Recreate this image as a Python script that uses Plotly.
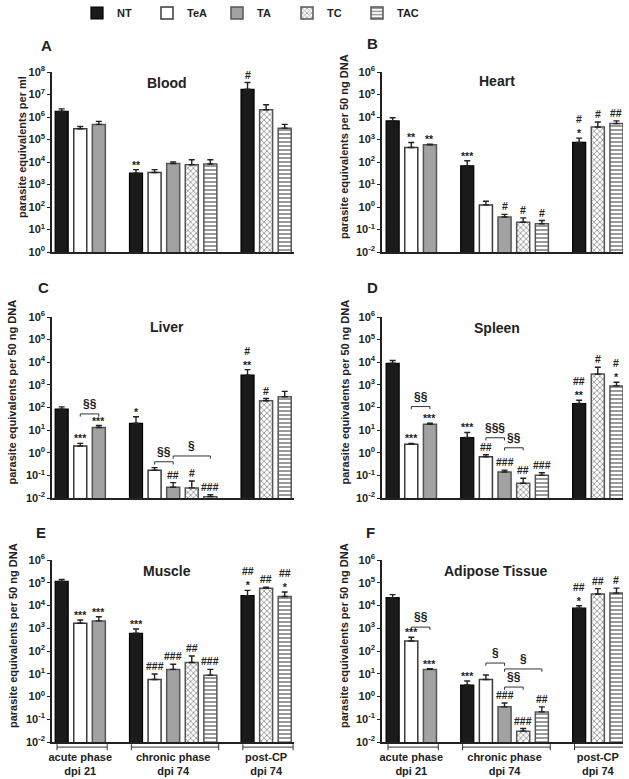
import math
import plotly.graph_objects as go

# ---------------- data ----------------
TREATMENTS = ["NT", "TeA", "TA", "TC", "TAC"]
GROUP_LABELS = ["acute phase<br>dpi 21", "chronic phase<br>dpi 74", "post-CP<br>dpi 74"]
GROUP_MEMBERS = [["NT", "TeA", "TA"], ["NT", "TeA", "TA", "TC", "TAC"], ["NT", "TC", "TAC"]]

PANEL_LETTERS = ["A", "B", "C", "D", "E", "F"]
PANEL_TITLES = ["Blood", "Heart", "Liver", "Spleen", "Muscle", "Adipose Tissue"]
Y_TITLES = ["parasite equivalents per ml"] + ["parasite equivalents per 50 ng DNA"] * 5
Y_EXP_RANGES = [(0, 8), (-2, 6), (-2, 6), (-2, 6), (-2, 6), (-2, 6)]

# slot order: acute NT,TeA,TA | chronic NT,TeA,TA,TC,TAC | post-CP NT,TC,TAC
blood_mean = [1.8e6, 3.0e5, 4.7e5, 3.2e3, 3.4e3, 8.5e3, 7.6e3, 8.2e3, 1.7e7, 2.1e6, 3.2e5]
blood_sem = [5e5, 8e4, 1.7e5, 1.4e3, 1.2e3, 1.5e3, 5e3, 4.4e3, 1.7e7, 1.4e6, 1.5e5]
blood_sig = ["", "", "", "**", "", "", "", "", "#", "", ""]

heart_mean = [6.7e3, 440, 580, 68, 1.24, 0.36, 0.21, 0.18, 740, 3600, 5100]
heart_sem = [2600, 300, 40, 46, 0.56, 0.11, 0.12, 0.07, 410, 2400, 1600]
heart_sig = ["", "**", "**", "***", "", "#", "#", "#", "#<br>*", "#", "##"]

liver_mean = [85, 2.0, 13, 20, 0.17, 0.03, 0.028, 0.0115, 2700, 200, 300]
liver_sem = [22, 0.6, 3, 19, 0.05, 0.018, 0.028, 0.0025, 2000, 50, 215]
liver_sig = ["", "***", "***", "*", "", "##", "#", "###", "#<br>**", "#", ""]

spleen_mean = [9000, 2.4, 18, 4.7, 0.66, 0.14, 0.045, 0.1, 150, 3000, 900]
spleen_sem = [3000, 0.2, 2, 3.2, 0.15, 0.03, 0.03, 0.03, 60, 3000, 400]
spleen_sig = ["", "***", "***", "***", "##", "###", "##", "###", "##<br>**", "#", "#<br>*"]

muscle_mean = [1.15e5, 1650, 2100, 600, 5.6, 15.5, 31, 8.7, 2.7e4, 5.8e4, 2.5e4]
muscle_sem = [2.5e4, 650, 1100, 330, 4.1, 10.5, 29, 6.8, 1.9e4, 6e3, 1.4e4]
muscle_sig = ["", "***", "***", "***", "###", "###", "##", "###", "##<br>*", "##", "##<br>*"]

adipose_mean = [2.2e4, 275, 15.5, 3.2, 5.6, 0.35, 0.03, 0.21, 7600, 3.2e4, 3.5e4]
adipose_sem = [8000, 125, 1.1, 1.6, 3.2, 0.17, 0.009, 0.14, 2200, 2.3e4, 2.3e4]
adipose_sig = ["", "***", "***", "***", "", "###", "###", "##", "##<br>*", "##", "#"]

# comparison brackets: (slot a, slot b, level, label)
liver_brackets = [(1, 2, 52, "§§"), (4, 5, 0.40, "§§"), (5, 7, 0.72, "§")]
spleen_brackets = [(1, 2, 110, "§§"), (4, 5, 4.6, "§§§"), (5, 6, 1.66, "§§")]
adipose_brackets = [(1, 2, 1120, "§§"), (4, 5, 29.5, "§"), (5, 7, 16.2, "§"), (5, 6, 2.6, "§§")]

PANELS = [
    (blood_mean, blood_sem, blood_sig, []),
    (heart_mean, heart_sem, heart_sig, []),
    (liver_mean, liver_sem, liver_sig, liver_brackets),
    (spleen_mean, spleen_sem, spleen_sig, spleen_brackets),
    (muscle_mean, muscle_sem, muscle_sig, []),
    (adipose_mean, adipose_sem, adipose_sig, adipose_brackets),
]

# ---------------- styling ----------------
W, H = 629, 779
FONT = "Liberation Sans, Arial, sans-serif"
STYLE = {
    "NT": dict(color="#1a1a1a", line=dict(color="#000000", width=1.2)),
    "TeA": dict(color="#ffffff", line=dict(color="#3a3a3a", width=1.5)),
    "TA": dict(color="#a2a2a2", line=dict(color="#555555", width=1.5)),
    "TC": dict(color="#ffffff", line=dict(color="#555555", width=1.5),
               pattern=dict(shape="x", fgcolor="#333333", bgcolor="#ffffff", size=4, solidity=0.4)),
    "TAC": dict(color="#ffffff", line=dict(color="#555555", width=1.5),
                pattern=dict(shape="-", fgcolor="#1e1e1e", bgcolor="#ffffff", size=4, solidity=0.45)),
}

# slot positions derived from the group structure
positions, slot_treat, group_centers, group_spans = [], [], [], []
cursor = 0
for members in GROUP_MEMBERS:
    start = cursor
    for m in members:
        positions.append(cursor)
        slot_treat.append(m)
        cursor += 1
    group_spans.append((start, cursor - 1))
    group_centers.append((start + cursor - 1) / 2)
    cursor += 1

def px_x(p):
    return p / W

def px_y(p):
    return 1 - p / H

COLS = [dict(dom=(52, 294), rng=(-0.52, 12.5)), dict(dom=(382, 623), rng=(-0.57, 12.35))]
ROWS = [(72, 252), (317, 498), (560, 742)]
YTITLE_X = [22, 344, 11, 344, 13, 344]
LETTER_POS = [(46, 45), (372, 44), (43, 287), (372, 287), (41, 532), (370, 532)]
TITLE_POS = [(167, 83), (497, 81), (167, 327), (497, 328), (167, 571), (495, 571)]

fig = go.Figure()
annotations, shapes = [], []
layout = {}

for i, (mean, sem, sig, brackets) in enumerate(PANELS):
    n = i + 1
    col, row = COLS[i % 2], ROWS[i // 2]
    xa, ya = ("x" if n == 1 else f"x{n}"), ("y" if n == 1 else f"y{n}")
    xk, yk = ("xaxis" if n == 1 else f"xaxis{n}"), ("yaxis" if n == 1 else f"yaxis{n}")

    for t in TREATMENTS:
        idx = [k for k, s in enumerate(slot_treat) if s == t]
        st = STYLE[t]
        marker = dict(color=st["color"], line=st["line"])
        if "pattern" in st:
            marker["pattern"] = st["pattern"]
        fig.add_trace(go.Bar(
            x=[positions[k] for k in idx], y=[mean[k] for k in idx],
            error_y=dict(type="data", symmetric=False, array=[sem[k] for k in idx],
                         arrayminus=[0] * len(idx), color="#222222", thickness=1.4, width=3),
            marker=marker, width=0.7, name=t, legendgroup=t, showlegend=(n == 1),
            xaxis=xa, yaxis=ya, hoverinfo="skip",
        ))

    lo, hi = Y_EXP_RANGES[i]
    last_row = (i // 2 == 2)
    layout[xk] = dict(
        domain=[px_x(col["dom"][0]), px_x(col["dom"][1])], range=list(col["rng"]),
        anchor=ya, showline=True, linecolor="#222222", linewidth=1.5, showgrid=False,
        zeroline=False, ticks="", showticklabels=last_row, automargin=False,
        tickvals=group_centers, ticktext=GROUP_LABELS, ticklabelstandoff=4,
        tickfont=dict(size=11, color="#222222"), fixedrange=True,
    )
    layout[yk] = dict(
        domain=[px_y(row[1]), px_y(row[0])], type="log", range=[lo, hi], anchor=xa,
        showline=True, linecolor="#222222", linewidth=1.5, showgrid=False, zeroline=False,
        ticks="outside", ticklen=3, tickwidth=1, tickcolor="#222222", automargin=False,
        tickvals=[10 ** e for e in range(lo, hi + 1)],
        ticktext=[f"10<sup>{e}</sup>" for e in range(lo, hi + 1)],
        tickfont=dict(size=11, color="#222222"), fixedrange=True,
    )

    # significance marks above error bars
    for k, s in enumerate(sig):
        if not s:
            continue
        ysh = -3 if s.endswith("*") else 0
        annotations.append(dict(
            x=positions[k], y=math.log10(mean[k] + sem[k]), xref=xa, yref=ya,
            text=s, showarrow=False, yanchor="bottom", xanchor="center", yshift=ysh,
            font=dict(size=10.5, color="#222222"),
        ))

    # comparison brackets
    for a, b, level, label in brackets:
        xa0, xb0 = positions[a], positions[b]
        drop = level / 10 ** 0.12
        for (x0, y0, x1, y1) in [(xa0, drop, xa0, level), (xa0, level, xb0, level), (xb0, level, xb0, drop)]:
            shapes.append(dict(type="line", xref=xa, yref=ya, x0=x0, y0=y0, x1=x1, y1=y1,
                               line=dict(color="#333333", width=1)))
        annotations.append(dict(
            x=(xa0 + xb0) / 2, y=math.log10(level), xref=xa, yref=ya, text=label,
            showarrow=False, yanchor="bottom", xanchor="center", yshift=1,
            font=dict(size=12, color="#222222"),
        ))

    # group brackets under the bottom row
    if last_row:
        for (s0, s1) in group_spans:
            x0, x1 = s0 - 0.25, s1 + 0.45
            shapes.append(dict(type="line", xref=xa, yref=f"{ya} domain", x0=x0, x1=x1,
                               y0=-0.028, y1=-0.028, line=dict(color="#333333", width=1)))
            for xx in (x0, x1):
                shapes.append(dict(type="line", xref=xa, yref=f"{ya} domain", x0=xx, x1=xx,
                                   y0=-0.012, y1=-0.045, line=dict(color="#333333", width=1)))

    # panel letter, title, y-axis title
    lx, ly = LETTER_POS[i]
    annotations.append(dict(x=px_x(lx), y=px_y(ly), xref="paper", yref="paper", text=PANEL_LETTERS[i],
                            xanchor="center", yanchor="middle",
                            showarrow=False, font=dict(size=15, color="#222222")))
    tx, ty = TITLE_POS[i]
    annotations.append(dict(x=px_x(tx), y=px_y(ty), xref="paper", yref="paper", text=PANEL_TITLES[i],
                            xanchor="center", yanchor="middle",
                            showarrow=False, font=dict(size=14, color="#222222")))
    annotations.append(dict(x=px_x(YTITLE_X[i]), y=px_y((row[0] + row[1]) / 2 - 15),
                            xref="paper", yref="paper", text=Y_TITLES[i], textangle=-90,
                            xanchor="center", yanchor="middle",
                            showarrow=False, font=dict(size=11, color="#222222")))

fig.update_layout(
    width=W, height=H, margin=dict(l=0, r=0, t=0, b=0, autoexpand=False),
    paper_bgcolor="white", plot_bgcolor="white", barmode="overlay",
    font=dict(family=FONT, size=11, color="#222222", weight="bold"),
    showlegend=True,
    legend=dict(orientation="h", x=px_x(77), y=px_y(13), xanchor="left", yanchor="middle",
                entrywidth=25, entrywidthmode="pixels", traceorder="normal",
                font=dict(size=11, color="#222222"), bgcolor="rgba(0,0,0,0)"),
    annotations=annotations, shapes=shapes,
    **layout,
)

fig.write_html("out.html", config={"displayModeBar": False},
               post_script="document.body.style.margin='0';document.body.style.overflow='hidden';")
